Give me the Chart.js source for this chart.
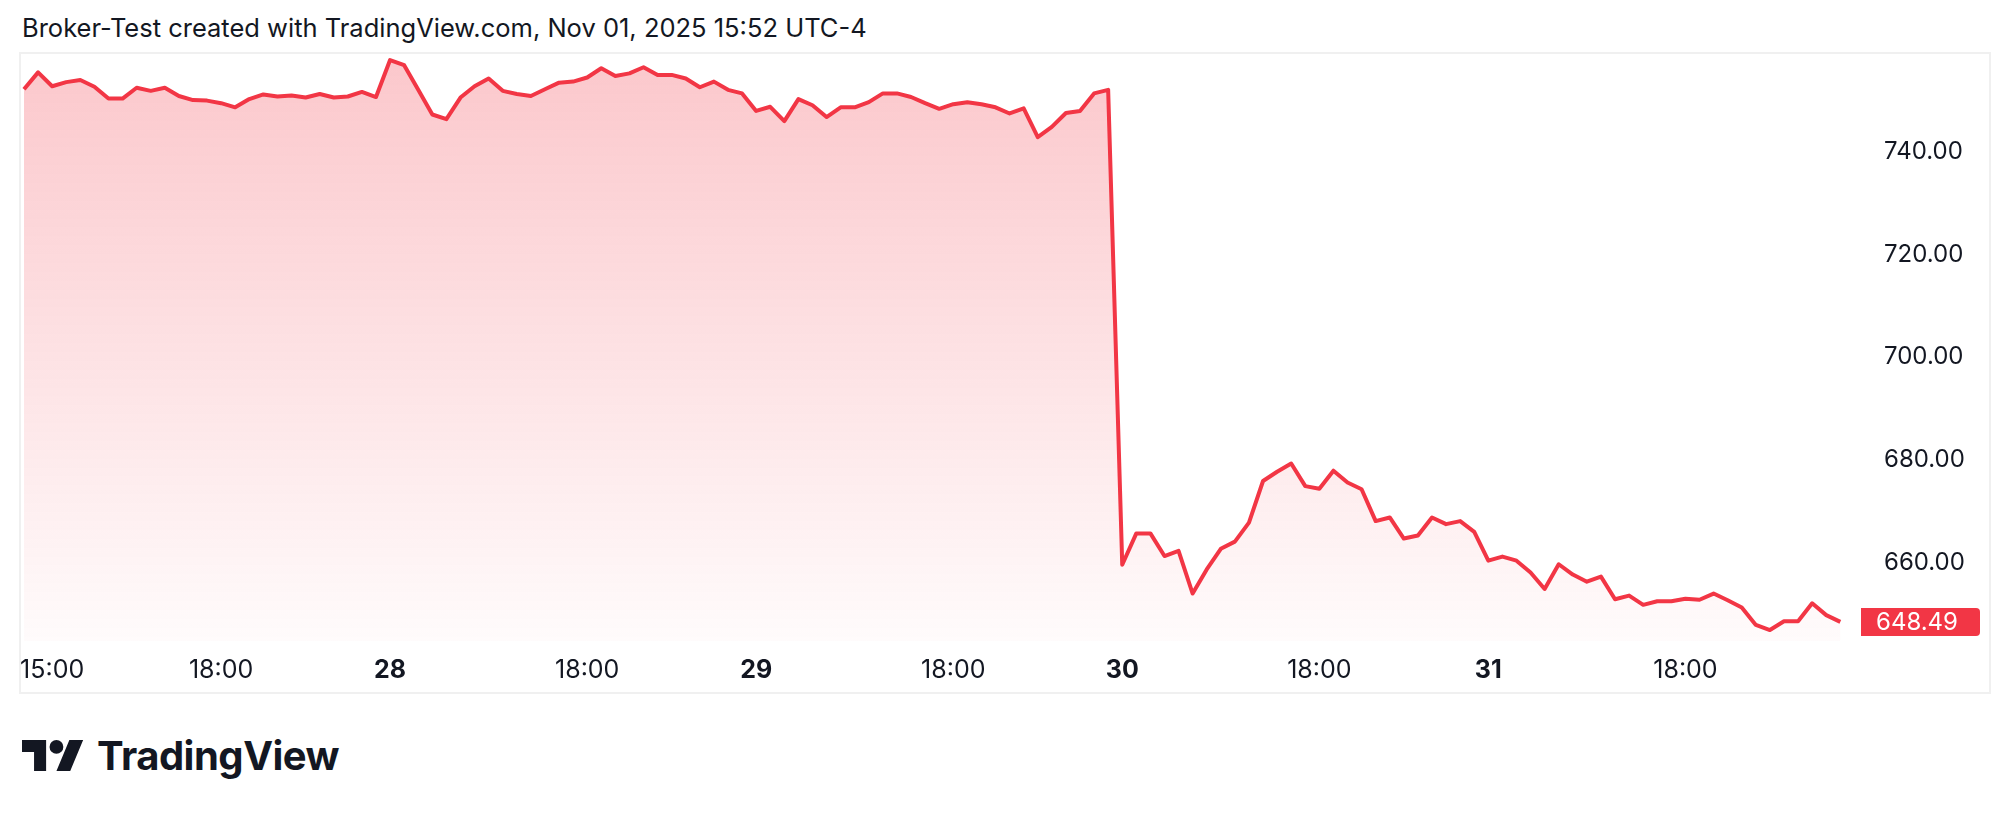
<!DOCTYPE html>
<html>
<head>
<meta charset="utf-8">
<script src="https://cdn.jsdelivr.net/npm/chart.js@4.4.1/dist/chart.umd.min.js"></script>
<style>
  html, body { margin: 0; padding: 0; background: #fff; }
  body { width: 2012px; height: 814px; position: relative; overflow: hidden; font-family: Inter, "Noto Sans", sans-serif; color: #131722; }
  #title { position: absolute; left: 22px; top: 12px; font-size: 25.5px; line-height: 32px; white-space: nowrap; }
  #frame { position: absolute; left: 19px; top: 52px; width: 1968px; height: 638px; border: 2px solid #f0f0f0; }
  #chart { display: block; }
  #logo { position: absolute; left: 22px; top: 732px; height: 46px; display: flex; align-items: center; }
  #logo svg { margin-right: 13px; }
  #logo span { font-size: 40px; font-weight: 700; letter-spacing: -0.5px; }
</style>
</head>
<body>
<div id="title">Broker-Test created with TradingView.com, Nov 01, 2025 15:52 UTC-4</div>
<div id="frame"><canvas id="chart" width="1968" height="638"></canvas></div>
<div id="logo">
  <svg width="62" height="31" viewBox="0 4 36 18"><path d="M14 22H7V11H0V4h14v18zM28 22h-8l7.5-18h8L28 22z" fill="#131722"/><circle cx="20" cy="8" r="4" fill="#131722"/></svg>
  <span>TradingView</span>
</div>
<script>
// 15 minute closes, regular session, Oct 27 14:30 -> Oct 31
const day27 = [752.1, 755.4, 752.7, 753.5, 753.9, 752.6, 750.3, 750.3, 752.4, 751.8, 752.4, 750.8, 750.0,
    749.9, 749.4, 748.6, 750.2, 751.1, 750.7, 750.9, 750.5, 751.2, 750.5, 750.7, 751.6, 750.6];
const day28 = [757.8, 756.8, 752.0, 747.2, 746.3, 750.5, 752.7, 754.2, 751.8, 751.2, 750.8, 752.1, 753.4,
    753.6, 754.4, 756.2, 754.7, 755.2, 756.4, 754.9, 754.9, 754.2, 752.5, 753.6, 752.0, 751.3];
const day29 = [747.9, 748.7, 745.9, 750.2, 749.0, 746.7, 748.6, 748.6, 749.6, 751.3, 751.3, 750.6, 749.4,
    748.3, 749.2, 749.6, 749.2, 748.6, 747.4, 748.4, 742.8, 744.8, 747.5, 747.9, 751.3, 752.0];
const day30 = [659.6, 665.7, 665.7, 661.3, 662.3, 654.0, 658.7, 662.7, 664.1, 667.8, 675.9, 677.7, 679.3,
    674.9, 674.4, 677.9, 675.6, 674.3, 668.1, 668.8, 664.7, 665.3, 668.8, 667.5, 668.1, 666.0];
const day31 = [660.4, 661.2, 660.4, 658.1, 654.9, 659.7, 657.7, 656.3, 657.3, 652.9, 653.6, 651.8, 652.5,
    652.5, 653.0, 652.8, 654.0, 652.7, 651.3, 647.9, 646.9, 648.6, 648.6, 652.1, 649.8, 648.49];
const closes = [...day27, ...day28, ...day29, ...day30, ...day31];

// time axis labels, placed at bar index
const tickIdx = [2, 14, 26, 40, 52, 66, 78, 92, 104, 118];
const tickText = ['15:00', '18:00', '28', '18:00', '29', '18:00', '30', '18:00', '31', '18:00'];
const dayLabels = ['28', '29', '30', '31'];
const yTicks = [660, 680, 700, 720, 740];

const red = '#F23645';
const lastValue = closes[closes.length - 1];

const lastPrice = {
    id: 'lastPrice',
    afterDraw(chart) {
        const c = chart.ctx;
        const area = chart.chartArea;
        const y = chart.scales.y.getPixelForValue(lastValue);
        c.save();
        c.fillStyle = red;
        c.beginPath();
        c.roundRect(area.right - 1, y - 14, 119, 28, [0, 4, 4, 0]);
        c.fill();
        c.fillStyle = '#fff';
        c.font = '24px Inter';
        c.textAlign = 'left';
        c.textBaseline = 'middle';
        c.fillText(lastValue.toFixed(2), area.right + 14, y + 1);
        c.restore();
    }
};

// no automatic room for overflowing tick labels
function noPadding (scale) {
    scale.paddingLeft = 0;
    scale.paddingRight = 0;
    scale.paddingTop = 0;
    scale.paddingBottom = 0;
}

const ctx = document.querySelector('#chart').getContext('2d');
new Chart(ctx, {
    type: 'line',
    data: {
        datasets: [{
            data: closes.map((v, i) => ({ x: i, y: v })),
            borderColor: red,
            borderWidth: 4,
            borderJoinStyle: 'round',
            pointRadius: 0,
            tension: 0,
            fill: 'start',
            backgroundColor: function (context) {
                const area = context.chart.chartArea;
                if (!area) return 'rgba(242,54,69,0.2)';
                const g = context.chart.ctx.createLinearGradient(0, area.top, 0, area.bottom);
                g.addColorStop(0, 'rgba(242,54,69,0.28)');
                g.addColorStop(1, 'rgba(242,54,69,0.02)');
                return g;
            }
        }]
    },
    options: {
        responsive: false,
        animation: false,
        layout: { padding: 0 },
        plugins: { legend: { display: false }, tooltip: { enabled: false } },
        scales: {
            x: {
                type: 'linear',
                min: -0.213,
                max: 130.54,
                grid: { display: false },
                border: { display: false },
                afterBuildTicks: function (scale) {
                    scale.ticks = tickIdx.map(v => ({ value: v }));
                },
                afterFit: function (scale) {
                    scale.height = 51;
                    noPadding(scale);
                },
                ticks: {
                    autoSkip: false,
                    maxRotation: 0,
                    padding: 6,
                    color: '#131722',
                    font: function (c) {
                        const bold = dayLabels.includes(tickText[c.index]);
                        return { family: 'Inter', size: 25, weight: bold ? '700' : '400' };
                    },
                    callback: function (value) { return tickText[tickIdx.indexOf(value)]; }
                }
            },
            y: {
                position: 'right',
                min: 644.77,
                max: 758.97,
                grid: { display: false },
                border: { display: false },
                afterBuildTicks: function (scale) {
                    scale.ticks = yTicks.map(v => ({ value: v }));
                },
                afterFit: function (scale) {
                    scale.width = 127;
                    noPadding(scale);
                },
                ticks: {
                    padding: 14,
                    color: '#131722',
                    font: { family: 'Inter', size: 24 },
                    callback: function (value) { return value.toFixed(2); }
                }
            }
        }
    },
    plugins: [lastPrice]
});
</script>
</body>
</html>
